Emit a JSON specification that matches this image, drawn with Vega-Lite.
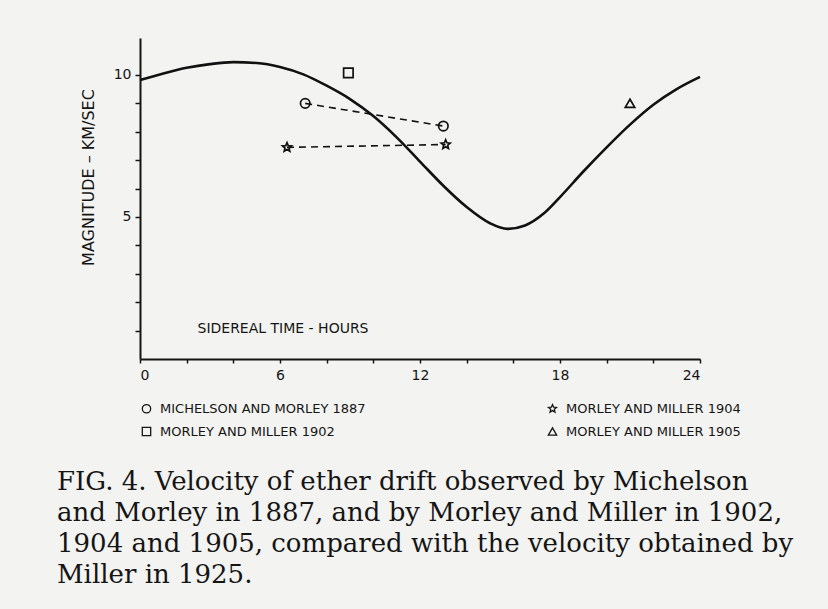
{
  "$schema": "https://vega.github.io/schema/vega-lite/v6.json",
  "autosize": "none",
  "width": 560,
  "height": 321,
  "padding": {"left": 140, "top": 38, "right": 128, "bottom": 250},
  "background": "#f3f3f1",
  "config": {
    "view": {"stroke": null},
    "axis": {"grid": false, "domainColor": "#151515", "domainWidth": 2, "tickColor": "#151515", "tickWidth": 1.5, "labelColor": "#151515", "titleColor": "#151515", "labelFont": "DejaVu Sans", "titleFont": "DejaVu Sans", "titleFontWeight": "normal", "labelOverlap": false}
  },
  "title": {
    "text": ["FIG. 4. Velocity of ether drift observed by Michelson", "and Morley in 1887, and by Morley and Miller in 1902,", "1904 and 1905, compared with the velocity obtained by", "Miller in 1925."],
    "orient": "bottom",
    "anchor": "start",
    "frame": "group",
    "font": "DejaVu Serif",
    "fontSize": 26,
    "fontWeight": "normal",
    "lineHeight": 31,
    "color": "#151515",
    "offset": 30,
    "dx": -83
  },
  "datasets": {
    "curve": [
      {"hour": 0, "speed": 9.82}, {"hour": 1, "speed": 10.05}, {"hour": 2, "speed": 10.25},
      {"hour": 3, "speed": 10.38}, {"hour": 4, "speed": 10.45}, {"hour": 5, "speed": 10.42},
      {"hour": 6, "speed": 10.28}, {"hour": 7, "speed": 10.02}, {"hour": 8, "speed": 9.62},
      {"hour": 9, "speed": 9.15}, {"hour": 10, "speed": 8.55}, {"hour": 11, "speed": 7.8},
      {"hour": 12, "speed": 6.95}, {"hour": 13, "speed": 6.1}, {"hour": 14, "speed": 5.35},
      {"hour": 15, "speed": 4.78}, {"hour": 15.75, "speed": 4.58}, {"hour": 16.5, "speed": 4.7},
      {"hour": 17.3, "speed": 5.12}, {"hour": 18, "speed": 5.7}, {"hour": 19, "speed": 6.6},
      {"hour": 20, "speed": 7.45}, {"hour": 21, "speed": 8.25}, {"hour": 22, "speed": 8.95},
      {"hour": 23, "speed": 9.5}, {"hour": 24, "speed": 9.93}
    ],
    "obs": [
      {"series": "MICHELSON AND MORLEY 1887", "hour": 7.08, "speed": 9.0},
      {"series": "MICHELSON AND MORLEY 1887", "hour": 13.0, "speed": 8.2},
      {"series": "MORLEY AND MILLER 1902", "hour": 8.93, "speed": 10.07},
      {"series": "MORLEY AND MILLER 1904", "hour": 6.3, "speed": 7.45},
      {"series": "MORLEY AND MILLER 1904", "hour": 13.1, "speed": 7.55},
      {"series": "MORLEY AND MILLER 1905", "hour": 21.0, "speed": 9.0}
    ]
  },
  "layer": [
    {
      "data": {"name": "curve"},
      "mark": {"type": "line", "interpolate": "monotone", "color": "#111", "strokeWidth": 2.6},
      "encoding": {
        "x": {"field": "hour", "type": "quantitative", "scale": {"domain": [0, 24], "nice": false},
          "axis": {"values": [0, 2, 4, 6, 8, 10, 12, 14, 16, 18, 20, 22, 24], "tickCount": 20, "format": "d", "labelExpr": "datum.value % 6 == 0 ? datum.label : ''", "labelFontSize": 14, "labelPadding": 5, "tickSize": 4,
            "title": "SIDEREAL TIME - HOURS", "titleFontSize": 14, "titleAlign": "left", "titleAnchor": "start", "titleX": 57, "titleY": -31, "titleBaseline": "middle"}},
        "y": {"field": "speed", "type": "quantitative", "scale": {"domain": [0, 11.3], "nice": false},
          "axis": {"values": [1, 2, 3, 4, 5, 6, 7, 8, 9, 10], "tickCount": 20, "format": "d", "labelExpr": "datum.value % 5 == 0 ? datum.label : ''", "labelFontSize": 14, "tickSize": 5, "labelPadding": 4,
            "title": "MAGNITUDE \u2013 KM/SEC", "titleFontSize": 16, "titleAngle": -90, "titleX": -52, "titleY": 139, "titleAlign": "center", "titleBaseline": "middle"}}
      }
    },
    {
      "data": {"name": "obs"},
      "transform": [{"filter": "datum.series == 'MICHELSON AND MORLEY 1887' || datum.series == 'MORLEY AND MILLER 1904'"}],
      "mark": {"type": "line", "color": "#111", "strokeWidth": 1.6, "strokeDash": [7, 5]},
      "encoding": {
        "x": {"field": "hour", "type": "quantitative"},
        "y": {"field": "speed", "type": "quantitative"},
        "detail": {"field": "series"}
      }
    },
    {
      "data": {"name": "obs"},
      "mark": {"type": "point", "filled": false, "color": "#111", "strokeWidth": 1.7, "size": 90, "opacity": 1},
      "encoding": {
        "x": {"field": "hour", "type": "quantitative"},
        "y": {"field": "speed", "type": "quantitative"},
        "shape": {"field": "series", "type": "nominal",
          "scale": {"domain": ["MICHELSON AND MORLEY 1887", "MORLEY AND MILLER 1902", "MORLEY AND MILLER 1904", "MORLEY AND MILLER 1905"],
            "range": ["circle", "square", "M0,-1L0.265,-0.364L0.951,-0.309L0.428,0.139L0.588,0.809L0,0.45L-0.588,0.809L-0.428,0.139L-0.951,-0.309L-0.265,-0.364Z", "triangle-up"]},
          "legend": {"orient": "none", "legendX": 0, "legendY": 364, "columns": 2, "direction": "vertical", "columnPadding": 179, "rowPadding": 8, "title": null,
            "labelFont": "DejaVu Sans", "labelFontSize": 13, "labelColor": "#151515", "labelOffset": 7, "labelLimit": 0,
            "symbolSize": 70, "symbolStrokeWidth": 1.3, "symbolStrokeColor": "#151515"}}
      }
    }
  ]
}
